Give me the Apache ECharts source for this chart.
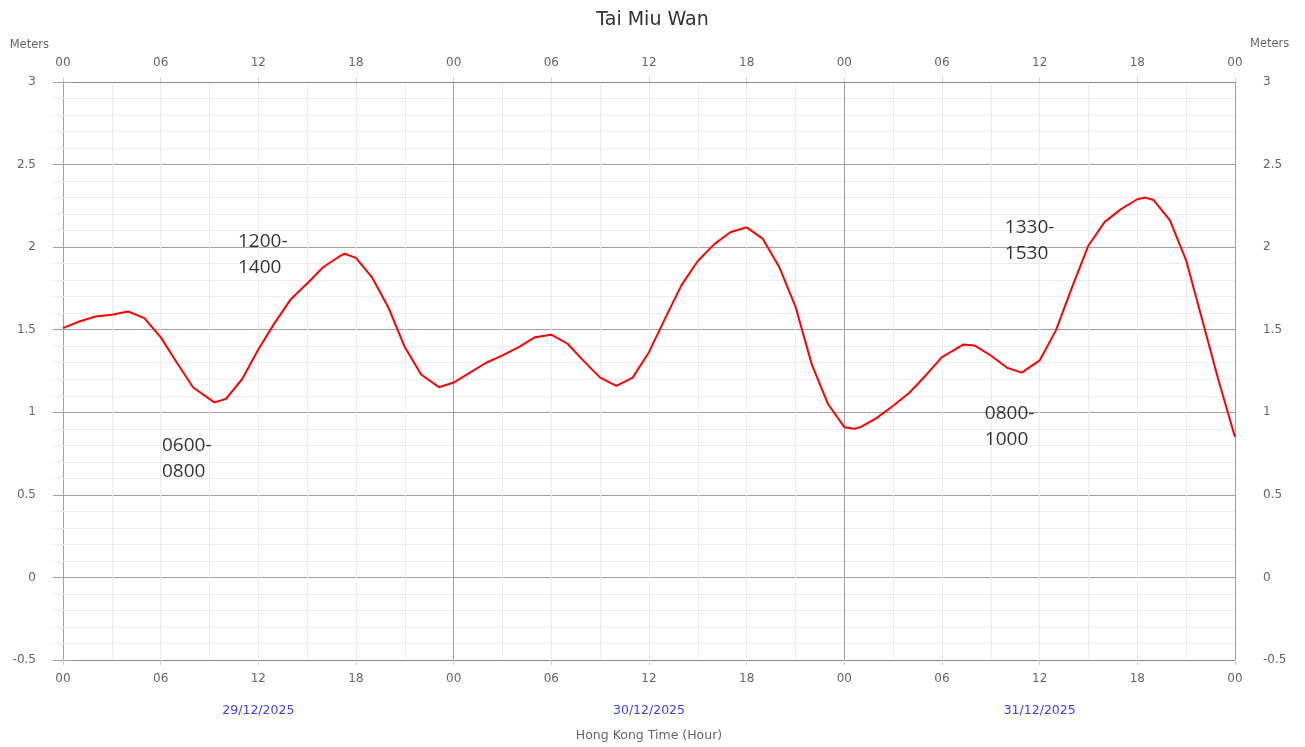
<!DOCTYPE html>
<html>
<head>
<meta charset="utf-8">
<script src="https://cdn.jsdelivr.net/npm/echarts@6/dist/echarts.min.js"></script>
<style>
  html, body { margin: 0; padding: 0; background: #fff; }
  #chartsId { width: 1305px; height: 747px; }
</style>
</head>
<body>
<div id="chartsId"></div>
<script>
// hours since 00:00 29/12/2025
const hours = [
  0, 1, 2, 3, 4, 5, 6, 7, 8, 9.3, 10, 11, 12, 13, 14, 15, 16, 17, 17.3, 18, 19, 20, 21, 22, 23.1,
  24, 25, 26, 27, 28, 29, 30, 31, 32, 33, 34, 35, 36, 37, 38, 39, 40, 41, 42, 43, 44, 45, 46, 47,
  48, 48.6, 49, 50, 51, 52, 53, 54, 55.3, 56, 57, 58, 58.9, 60, 61, 62, 63, 64, 65, 66, 66.5, 67,
  68, 69, 70, 71, 72
];
// tide height (m)
const heights = [
  1.51, 1.55, 1.58, 1.59, 1.61, 1.57, 1.455, 1.30, 1.15, 1.06, 1.08, 1.20, 1.38, 1.54, 1.685, 1.78, 1.88, 1.945, 1.96, 1.935, 1.815, 1.633, 1.395, 1.229, 1.152,
  1.18, 1.24, 1.30, 1.345, 1.395, 1.455, 1.47, 1.415, 1.31, 1.21, 1.16, 1.21, 1.364, 1.57, 1.77, 1.916, 2.017, 2.09, 2.12, 2.05, 1.88, 1.64, 1.29, 1.05,
  0.91, 0.90, 0.91, 0.966, 1.04, 1.118, 1.223, 1.334, 1.41, 1.405, 1.344, 1.27, 1.24, 1.314, 1.496, 1.76, 2.01, 2.153, 2.23, 2.29, 2.30, 2.285,
  2.163, 1.92, 1.556, 1.19, 0.85
];
const dates = ["29/12/2025", "30/12/2025", "31/12/2025"];
const yTicks = [-0.5, 0, 0.5, 1, 1.5, 2, 2.5, 3];

// hand-written notes on the picture
const noteText = ["1200-\n1400", "0600-\n0800", "1330-\n1530", "0800-\n1000"];
const noteHour = [10.75, 6.08, 57.86, 56.63];
const noteLevel = [1.957, 0.72, 2.04, 0.915];

const grayText = "#666666";
const hourLabel = function (v) {
  let h = v % 24;
  return (h < 10 ? "0" : "") + h;
};

let tideData = [];
for (let i = 0; i < hours.length; i++) {
  tideData.push([hours[i], heights[i]]);
}
let noteData = [];
for (let i = 0; i < noteText.length; i++) {
  noteData.push({ value: [noteHour[i], noteLevel[i]], label: { formatter: noteText[i] } });
}

const yAxisBase = {
  type: "value",
  min: yTicks[0],
  max: yTicks[yTicks.length - 1],
  interval: 0.5,
  axisLine: { show: false },
  axisTick: { show: true, length: 10, lineStyle: { color: "#a0a0a0" } },
  minorTick: { show: true, splitNumber: 5, length: 10, lineStyle: { color: "#ececec" } },
  splitLine: { show: true, lineStyle: { color: "#a0a0a0", width: 1 } },
  minorSplitLine: { show: true, lineStyle: { color: "#ececec", width: 1 } },
  axisLabel: { color: grayText, fontSize: 12, fontFamily: "DejaVu Sans", margin: 27 }
};

let myChart = echarts.init(document.getElementById("chartsId"));
let option = {
  backgroundColor: "#ffffff",
  animation: false,
  title: [
    {
      text: "Tai Miu Wan",
      left: "center",
      top: 6,
      textStyle: { color: "#333333", fontSize: 19, fontWeight: "normal", fontFamily: "DejaVu Sans" }
    },
    {
      // name of the right-hand axis
      text: "Meters",
      left: 1250,
      top: 38,
      padding: 0,
      textStyle: { color: grayText, fontSize: 11.5, fontWeight: "normal", fontFamily: "DejaVu Sans" }
    }
  ],
  grid: { left: 63, right: 70, top: 82, bottom: 84, containLabel: false },
  xAxis: [
    {
      type: "value",
      position: "bottom",
      min: 0,
      max: 72,
      interval: 6,
      axisLine: { show: true, onZero: false, lineStyle: { color: "#888888" } },
      axisTick: { show: true, length: 5, lineStyle: { color: "#ccd6eb" } },
      minorTick: { show: false, splitNumber: 2 },
      splitLine: { show: true, lineStyle: { color: "#ececec" } },
      minorSplitLine: { show: true, lineStyle: { color: "#ececec" } },
      axisLabel: { color: grayText, fontSize: 12, fontFamily: "DejaVu Sans", margin: 13, formatter: hourLabel }
    },
    {
      type: "value",
      position: "top",
      min: 0,
      max: 72,
      interval: 6,
      axisLine: { show: true, onZero: false, lineStyle: { color: "#888888" } },
      axisTick: { show: true, length: 5, lineStyle: { color: "#ccd6eb" } },
      splitLine: { show: false },
      axisLabel: { color: grayText, fontSize: 12, fontFamily: "DejaVu Sans", margin: 13, formatter: hourLabel }
    },
    {
      // day separators, date labels and axis title
      type: "value",
      position: "bottom",
      min: 0,
      max: 72,
      interval: 24,
      axisLine: { show: false },
      axisTick: { show: false },
      splitLine: { show: true, lineStyle: { color: "#a0a0a0", width: 1 } },
      axisLabel: {
        customValues: [12, 36, 60],
        color: "#3d3dff",
        fontSize: 12.5,
        fontFamily: "DejaVu Sans",
        margin: 44,
        formatter: function (v) {
          return dates[Math.round((v - 12) / 24)] || "";
        }
      },
      name: "Hong Kong Time (Hour)",
      nameLocation: "middle",
      nameGap: 69,
      nameTextStyle: { color: grayText, fontSize: 12.5, fontFamily: "DejaVu Sans" }
    }
  ],
  yAxis: [
    Object.assign({}, yAxisBase, {
      position: "left",
      name: "Meters",
      nameLocation: "end",
      nameGap: 31,
      nameTextStyle: { color: grayText, fontSize: 11.5, fontFamily: "DejaVu Sans", align: "right", padding: [0, 14, 0, 0] },
      axisLabel: Object.assign({}, yAxisBase.axisLabel, { margin: 27, align: "right" })
    }),
    Object.assign({}, yAxisBase, {
      position: "right",
      splitLine: { show: false },
      minorSplitLine: { show: false },
      axisLabel: Object.assign({}, yAxisBase.axisLabel, { margin: 28, align: "left" })
    })
  ],
  series: [
    {
      name: "Tai Miu Wan",
      type: "line",
      xAxisIndex: 0,
      yAxisIndex: 0,
      smooth: false,
      showSymbol: false,
      lineStyle: { color: "#ff0000", width: 2 },
      itemStyle: { color: "#ff0000" },
      data: tideData,
      z: 5
    },
    {
      name: "notes",
      type: "scatter",
      xAxisIndex: 0,
      yAxisIndex: 0,
      symbolSize: 0,
      silent: true,
      label: {
        show: true,
        position: [0, 0],
        align: "left",
        verticalAlign: "middle",
        color: "#000000",
        fontSize: 19,
        lineHeight: 26,
        fontFamily: "Open Sans"
      },
      data: noteData,
      z: 6
    }
  ]
};
myChart.setOption(option);
</script>
</body>
</html>
